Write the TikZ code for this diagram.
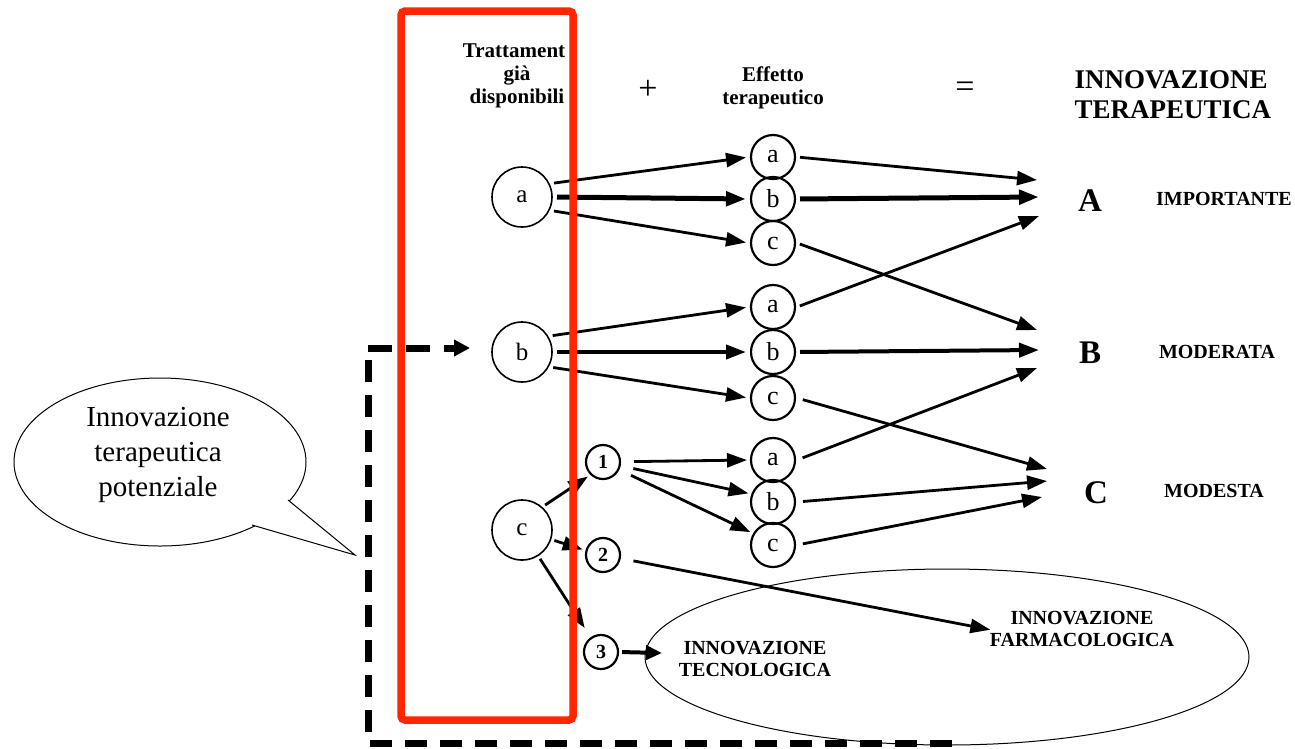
\documentclass[tikz,border=0pt]{standalone}
\usepackage{fontspec}
\setmainfont{Liberation Serif}
\usetikzlibrary{arrows.meta,shapes.geometric,calc}
\definecolor{boxred}{RGB}{255,38,0}
\begin{document}
\begin{tikzpicture}[x=1pt,y=-1pt,
  bigc/.style={circle,draw,line width=1.6pt,minimum size=60pt,inner sep=0pt,outer sep=2pt,font=\fontsize{25}{25}\selectfont},
  midc/.style={circle,draw,line width=2.2pt,minimum size=44pt,inner sep=0pt,outer sep=2pt,font=\fontsize{26}{26}\selectfont},
  numc/.style={circle,draw,line width=2.2pt,minimum size=34pt,inner sep=0pt,outer sep=2pt,font=\bfseries\fontsize{20}{20}\selectfont},
  arr/.style={line width=2.8pt,-{Triangle[length=20pt,width=14pt]}},
  thickarr/.style={line width=5pt,-{Triangle[length=20pt,width=14pt]}},
  gap/.style={shorten <=3pt,shorten >=3pt},
  head/.style={font=\bfseries\fontsize{21}{23}\selectfont,align=center},
  captxt/.style={font=\bfseries\fontsize{20}{22}\selectfont,align=center},
  grade/.style={font=\bfseries\fontsize{33}{33}\selectfont},
  dashline/.style={line width=7pt,dash pattern=on 22pt off 13pt},
]
\useasboundingbox (0,0) rectangle (1295,748);

% headers
\begin{scope}
\clip (380,0) -- (564,0) -- (564,62) -- (570,62) -- (570,140) -- (380,140) -- cycle;
\node[head] (Htr) at (517,75) {Trattamenti\\già\\disponibili};
\end{scope}
\node[font=\fontsize{34}{34}\selectfont] (Hplus) at (648,90) {+};
\node[head] (Hef) at (773,88) {Effetto\\terapeutico};
\node[font=\fontsize{34}{34}\selectfont] (Heq) at (965,90) {=};
\node[font=\bfseries\fontsize{27}{30}\selectfont,align=left,anchor=west] (Hin) at (1071,95) {INNOVAZIONE\\TERAPEUTICA};

% left circles
\node[bigc] (La) at (522,197) {a};
\node[bigc] (Lb) at (522,352) {b};
\node[bigc] (Lc) at (522,530) {c};

% middle circles
\node[midc] (Ma1) at (773,157) {a};
\node[midc] (Mb1) at (773,199) {b};
\node[midc] (Mc1) at (773,243) {c};
\node[midc] (Ma2) at (773,307) {a};
\node[midc] (Mb2) at (773,352) {b};
\node[midc] (Mc2) at (773,398) {c};
\node[midc] (Ma3) at (773,460) {a};
\node[midc] (Mb3) at (773,502) {b};
\node[midc] (Mc3) at (773,545) {c};

% numbered circles
\node[numc] (N1) at (603,462) {1};
\node[numc] (N2) at (603,555) {2};
\node[numc] (N3) at (601,652) {3};

% grades
\node[grade] (RA) at (1090,201) {A};
\node[grade] (RB) at (1090,353) {B};
\node[grade] (RC) at (1096,493) {C};
\node[captxt] (TA) at (1224,199) {IMPORTANTE};
\node[captxt] (TB) at (1217,352) {MODERATA};
\node[captxt] (TC) at (1214,491) {MODESTA};

% arrow end points
\coordinate (A1) at (1037,180);
\coordinate (A2) at (1039,197);
\coordinate (A3) at (1039,216);
\coordinate (B1) at (1037,330);
\coordinate (B2) at (1039,350);
\coordinate (B3) at (1037,368);
\coordinate (C1) at (1047,469);
\coordinate (C2) at (1047,481);
\coordinate (C3) at (1042,497);

% ellipse
\node[draw,ellipse,line width=1pt,minimum width=604pt,minimum height=176pt] (Ell) at (947,657) {};
\node[captxt] (Tec) at (755,659) {INNOVAZIONE\\TECNOLOGICA};
\node[captxt] (Farm) at (1082,629) {INNOVAZIONE\\FARMACOLOGICA};
\coordinate (TipT) at (662,653);

% arrows from left circles
\draw[arr,gap] (La.25) -- (Ma1.west);
\draw[thickarr,gap] (La.east) -- (Mb1.west);
\draw[arr,gap] (La.-25) -- (Mc1.west);
\draw[arr,gap] (Lb.30) -- (Ma2.west);
\draw[thickarr,line width=4pt,gap] (Lb.east) -- (Mb2.west);
\draw[arr,gap] (Lb.-28) -- (Mc2.west);

% arrows to grades
\draw[arr,shorten <=3pt] (Ma1.east) -- (A1);
\draw[thickarr,shorten <=3pt] (Mb1.east) -- (A2);
\draw[arr,shorten <=3pt] (Mc1.east) -- (B1);
\draw[arr,shorten <=3pt] (Ma2.east) -- (A3);
\draw[thickarr,line width=4pt,shorten <=3pt] (Mb2.east) -- (B2);
\draw[arr,shorten <=6pt] (Mc2.east) -- (C1);
\draw[arr,shorten <=6pt] (Ma3.east) -- (B3);
\draw[arr,shorten <=6pt] (Mb3.east) -- (C2);
\draw[arr,shorten <=6pt] (Mc3.east) -- (C3);

% arrows from 1
\draw[arr,shorten <=12pt,shorten >=2pt] (N1) -- (Ma3.west);
\draw[arr,shorten <=12pt,shorten >=2pt] (N1) -- (Mb3.160);
\draw[arr,shorten <=12pt,shorten >=2pt] (N1) -- (Mc3.150);

% arrows from c
\draw[arr,shorten <=2pt,shorten >=2pt] (Lc.48) -- (N1.225);
\draw[arr,shorten <=2pt,shorten >=2pt] (Lc.-18) -- (N2.165);
\draw[arr,shorten <=2pt,shorten >=10pt] (Lc.-58) -- (N3.125);

\draw[arr,shorten <=12pt,shorten >=-4pt] (N2) -- (Farm.west);
\draw[line width=4pt,-{Triangle[length=16pt,width=14pt]},shorten <=2pt] (N3.east) -- (TipT);

% dashed connector
\coordinate (D1) at (952,743);
\coordinate (D2) at (368,743);
\coordinate (D3) at (368,348);
\draw[dashline] (D1) -- (D2) -- (D3);
\draw[dashline,dash pattern=on 24pt off 14pt,-{Triangle[length=16pt,width=16pt]},shorten >=20pt] (D3) -- (Lb.west |- D3);

% speech bubble
\coordinate (S1) at (288,500);
\coordinate (S2) at (355,555);
\coordinate (S3) at (252,525);
\draw[line width=1pt] (160,462) ellipse [x radius=146pt, y radius=84pt];
\fill[white] (S1) -- (S2) -- (S3) -- cycle;
\draw[line width=1pt,line join=miter] (S1) -- (S2) -- (S3);
\node[font=\fontsize{29}{35}\selectfont,align=center] (Bub) at (158,455) {Innovazione\\terapeutica\\potenziale};

% red frame
\draw[boxred,line width=7.5pt,rounded corners=4pt] (401,11) rectangle (573,720);
\end{tikzpicture}
\end{document}
